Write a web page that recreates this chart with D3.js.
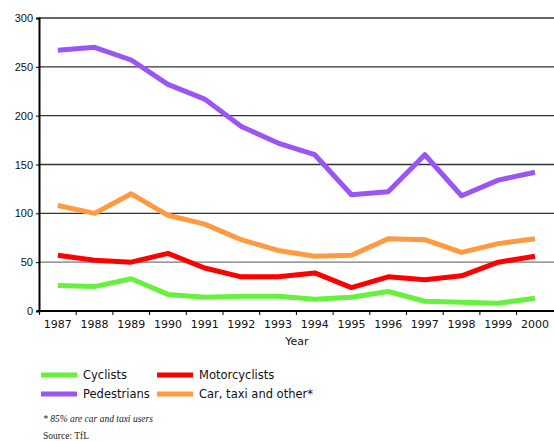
<!DOCTYPE html>
<html>
<head>
<meta charset="utf-8">
<script src="https://cdn.jsdelivr.net/npm/d3@7"></script>
<style>
  body { margin: 0; background: #fff; }
  svg { display: block; }
</style>
</head>
<body>
<div id="chart"></div>
<script>
// Values
const years = [1987, 1988, 1989, 1990, 1991, 1992, 1993, 1994, 1995, 1996, 1997, 1998, 1999, 2000];
const cyclists = [26, 25, 33, 17, 14, 15, 15, 12, 14, 20, 10, 9, 8, 13];
const motorcyclists = [57, 52, 50, 59, 44, 35, 35, 39, 24, 35, 32, 36, 50, 56];
const pedestrians = [267, 270, 257, 232, 217, 189, 172, 160, 119, 122, 160, 118, 134, 142];
const carTaxi = [108, 100, 120, 98, 89, 73, 62, 56, 57, 74, 73, 60, 69, 74];
const yTicks = [0, 50, 100, 150, 200, 250, 300];

const series = [
    { name: 'Cyclists', values: cyclists, color: '#66f23c' },
    { name: 'Motorcyclists', values: motorcyclists, color: '#ff0000' },
    { name: 'Pedestrians', values: pedestrians, color: '#9b55f5' },
    { name: 'Car, taxi and other*', values: carTaxi, color: '#ff9a40' }
];

const width = 554;
const height = 441;

const svg = d3.select('#chart').append('svg')
    .attr('width', width)
    .attr('height', height)
    .style('font-family', '"DejaVu Sans", sans-serif');

// Scales
const x = d3.scaleBand()
    .domain(years)
    .range([39.5, 39.5 + 14 * 36.7]);

const y = d3.scaleLinear()
    .domain([0, 300])
    .range([311, 18]);

// Gridlines
svg.append('g')
    .selectAll('line')
    .data(yTicks.filter(d => d > 0))
    .enter()
    .append('line')
    .attr('x1', 39)
    .attr('x2', width)
    .attr('y1', d => y(d))
    .attr('y2', d => y(d))
    .attr('stroke', d => d === 50 ? '#777' : '#333')
    .attr('stroke-width', 1.4);

// Lines
const line = d3.line()
    .x((d, i) => x(years[i]) + x.bandwidth() / 2)
    .y(d => y(d));

svg.append('g')
    .selectAll('path')
    .data(series)
    .enter()
    .append('path')
    .attr('d', d => line(d.values))
    .attr('fill', 'none')
    .attr('stroke', d => d.color)
    .attr('stroke-width', 5)
    .attr('stroke-linejoin', 'round');

// Y axis
const yAxis = svg.append('g')
    .attr('transform', 'translate(39,0)')
    .call(d3.axisLeft(y).tickValues(yTicks).tickSize(3).tickPadding(3));
yAxis.select('.domain').attr('stroke', '#000').attr('stroke-width', 2);
yAxis.selectAll('.tick line').attr('stroke', '#000');
yAxis.selectAll('text').style('font-size', '11px').attr('fill', '#111');

// X axis: ticks at band edges, labels centered
const xAxis = svg.append('g')
    .attr('transform', 'translate(0,311)');
xAxis.append('line')
    .attr('x1', 37)
    .attr('x2', width)
    .attr('stroke', '#000')
    .attr('stroke-width', 2);
xAxis.selectAll('.tk')
    .data(years)
    .enter()
    .append('line')
    .attr('class', 'tk')
    .attr('x1', d => x(d))
    .attr('x2', d => x(d))
    .attr('y1', 0)
    .attr('y2', 4)
    .attr('stroke', '#000');
xAxis.selectAll('text')
    .data(years)
    .enter()
    .append('text')
    .attr('x', d => x(d) + x.bandwidth() / 2)
    .attr('y', 17)
    .attr('text-anchor', 'middle')
    .style('font-size', '11px')
    .attr('fill', '#111')
    .text(d => d);

svg.append('text')
    .attr('x', 297)
    .attr('y', 345)
    .attr('text-anchor', 'middle')
    .style('font-size', '11px')
    .attr('fill', '#111')
    .text('Year');

// Legend
const legend = svg.append('g');
const legendItems = legend.selectAll('g')
    .data(series)
    .enter()
    .append('g')
    .attr('transform', (d, i) => `translate(${41 + (i % 2) * 116},${375 + Math.floor(i / 2) * 19})`);
legendItems.append('line')
    .attr('x1', 0)
    .attr('x2', 36)
    .attr('stroke', d => d.color)
    .attr('stroke-width', 5);
legendItems.append('text')
    .attr('x', 42)
    .attr('y', 4)
    .style('font-size', '11.5px')
    .attr('fill', '#111')
    .text(d => d.name);

// Notes
svg.append('text')
    .attr('x', 43)
    .attr('y', 422)
    .style('font-family', '"Liberation Serif", serif')
    .style('font-size', '9.5px')
    .style('font-style', 'italic')
    .attr('fill', '#222')
    .text('* 85% are car and taxi users');

svg.append('text')
    .attr('x', 43)
    .attr('y', 439)
    .style('font-family', '"Liberation Serif", serif')
    .style('font-size', '9.5px')
    .attr('fill', '#222')
    .text('Source: TfL');
</script>
</body>
</html>
